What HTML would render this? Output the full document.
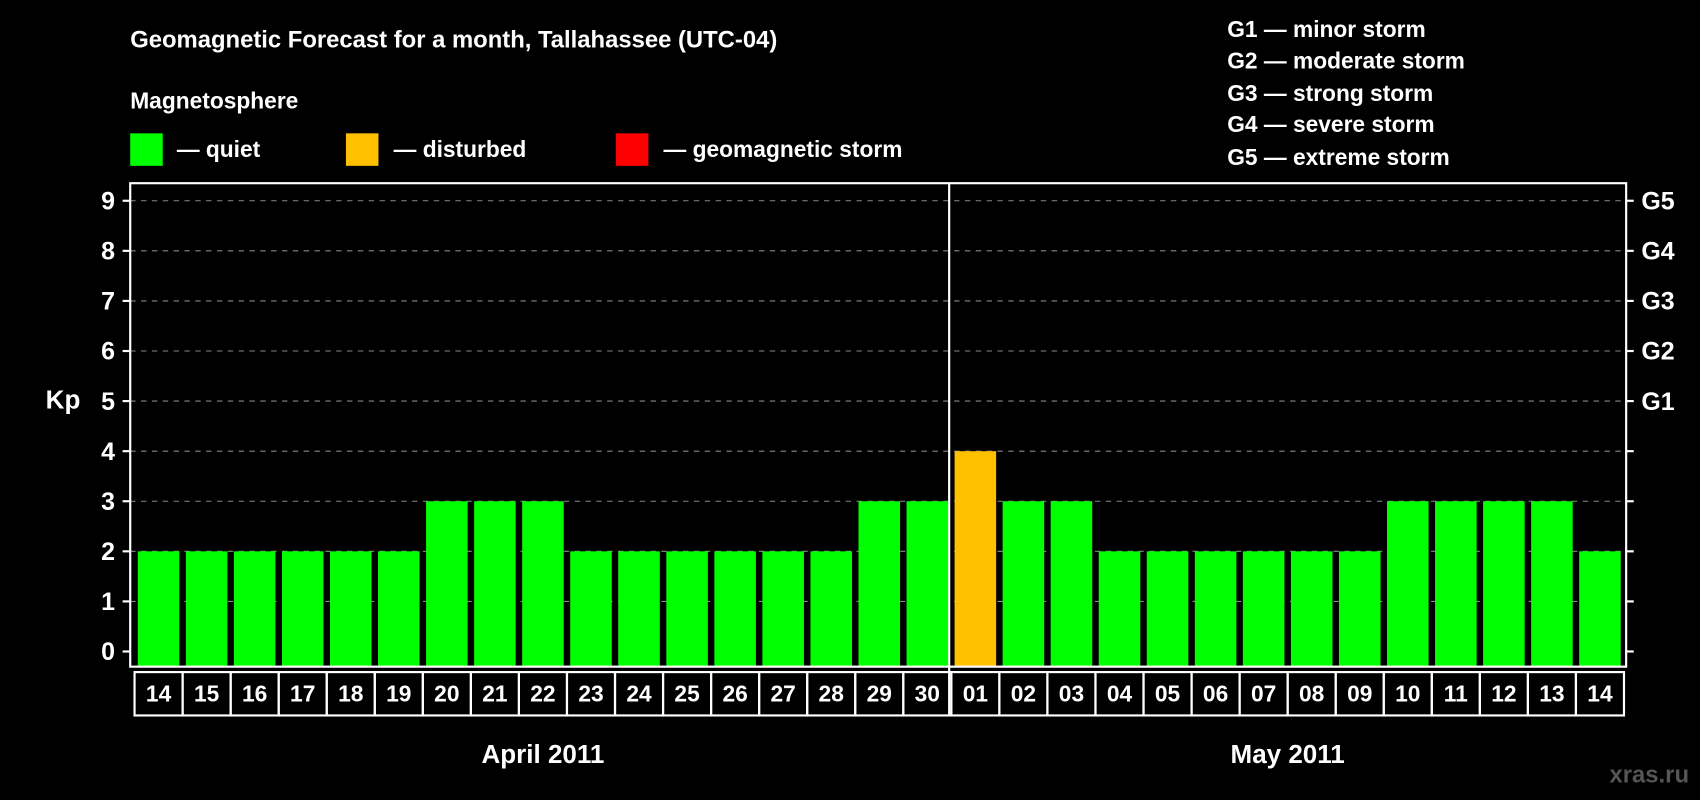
<!DOCTYPE html>
<html><head><meta charset="utf-8"><style>
html,body{margin:0;padding:0;background:#000;}
svg{display:block;font-family:"Liberation Sans",sans-serif;font-weight:bold;}
</style></head><body>
<svg id="chart" width="1700" height="800" viewBox="0 0 1568 738" xmlns="http://www.w3.org/2000/svg">
<rect x="0" y="0" width="1568" height="738" fill="#000"/>
<text x="120" y="44" fill="#fff" font-size="22">Geomagnetic Forecast for a month, Tallahassee (UTC-04)</text>
<text x="120" y="100" fill="#fff" font-size="21">Magnetosphere</text>
<g><rect x="120" y="123" width="30" height="30" fill="#00ff00"/><text x="163" y="145" fill="#fff" font-size="21">— quiet</text></g>
<g><rect x="319" y="123" width="30" height="30" fill="#ffc000"/><text x="363" y="145" fill="#fff" font-size="21">— disturbed</text></g>
<g><rect x="568" y="123" width="30" height="30" fill="#ff0000"/><text x="612" y="145" fill="#fff" font-size="21">— geomagnetic storm</text></g>
<g fill="#fff" font-size="21">
<text x="1132" y="34">G1 — minor storm</text>
<text x="1132" y="63">G2 — moderate storm</text>
<text x="1132" y="93">G3 — strong storm</text>
<text x="1132" y="122">G4 — severe storm</text>
<text x="1132" y="152">G5 — extreme storm</text>
</g>
<text x="58" y="377" fill="#fff" font-size="24" text-anchor="middle">Kp</text>
<text x="1558" y="722" fill="#555" font-size="22" text-anchor="end">xras.ru</text>
<g id="plot"></g>
</svg>
<script>
const days = ["14","15","16","17","18","19","20","21","22","23","24","25","26","27","28","29","30","01","02","03","04","05","06","07","08","09","10","11","12","13","14"];
const kpValues = [2,2,2,2,2,2,3,3,3,2,2,2,2,2,2,3,3,4,3,3,2,2,2,2,2,2,3,3,3,3,2];
const yTicks = [0,1,2,3,4,5,6,7,8,9];
const gLabels = ["G1","G2","G3","G4","G5"];
const months = ["April 2011","May 2011"];

const NS="http://www.w3.org/2000/svg";
const g=document.getElementById('plot');
const L=120,R=1500,T=169,B=615;
const cellX0=124, cellW=(1498-124)/days.length;
const y=v=>601-v*46.2;
const x=i=>cellX0+i*cellW;
function mk(tag,attrs,parent){const e=document.createElementNS(NS,tag);for(const k in attrs)e.setAttribute(k,attrs[k]);(parent||g).appendChild(e);return e;}
function color(v){return v>=5?"#ff0000":(v>=4?"#ffc000":"#00ff00");}

yTicks.forEach(t=>{
  if(t>0){const gl=mk('line',{x1:L,x2:R,y1:y(t),y2:y(t),stroke:'#888','stroke-dasharray':'5,5','stroke-width':1});
  
  }
  const tk=mk('line',{x1:L-7,x2:L,y1:y(t),y2:y(t),stroke:'#fff','stroke-width':2});
  
  
  const rt=mk('line',{x1:R,x2:R+7,y1:y(t),y2:y(t),stroke:'#fff','stroke-width':2});
  
  
  const lb=mk('text',{x:L-14,y:y(t)+8,fill:'#fff','font-size':23,'text-anchor':'end'});
  lb.textContent=t;
  
  
});
gLabels.forEach((s,i)=>{
  const lb=mk('text',{x:R+14,y:y(5+i)+8,fill:'#fff','font-size':23});
  lb.textContent=s;
  
  
});
kpValues.forEach((v,i)=>{
  const b=mk('rect',{x:x(i)+3,y:y(v),width:cellW-6,height:B-y(v),fill:color(v)});
  
  
});
mk('rect',{x:L,y:T,width:R-L,height:B-T,fill:'none',stroke:'#fff','stroke-width':2});
days.forEach((d,i)=>{
  const c=mk('rect',{x:x(i),y:620,width:cellW,height:40,fill:'none',stroke:'#fff','stroke-width':2});
  
  
  const t=mk('text',{x:x(i)+cellW/2,y:647,fill:'#fff','font-size':21,'text-anchor':'middle'});
  t.textContent=d;
  
  
});
const split=days.indexOf("01");
const dv=mk('line',{x1:x(split)-2,x2:x(split)-2,y1:T,y2:660,stroke:'#fff','stroke-width':2});


const m1=mk('text',{x:(x(0)+x(split))/2,y:704,fill:'#fff','font-size':24,'text-anchor':'middle'});
m1.textContent=months[0];


const m2=mk('text',{x:(x(split)+x(days.length))/2,y:704,fill:'#fff','font-size':24,'text-anchor':'middle'});
m2.textContent=months[1];


</script>
</body></html>
